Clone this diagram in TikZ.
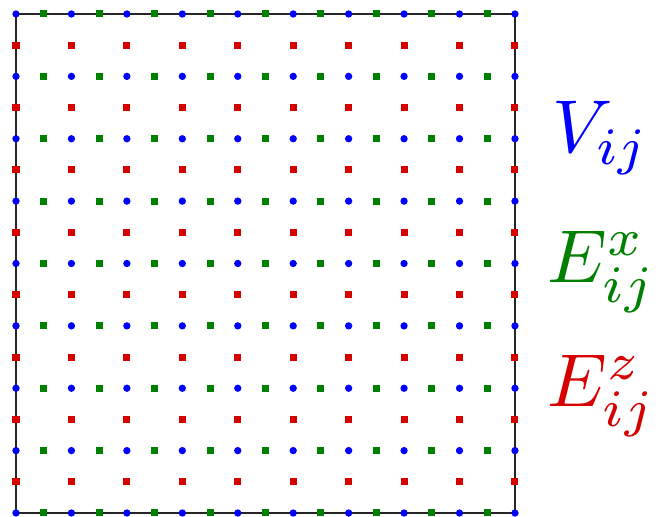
\documentclass[tikz,border=0pt]{standalone}
\usepackage{tikz}
\usetikzlibrary{positioning}
\definecolor{vblue}{RGB}{0,0,255}
\definecolor{xgreen}{RGB}{0,128,0}
\definecolor{zred}{RGB}{214,0,0}
\tikzset{
  latbox/.style={draw=black!85, line width=1pt},
  vdot/.style={fill=vblue},
  xdot/.style={fill=xgreen},
  zdot/.style={fill=zred},
  latlabel/.style={anchor=base west, inner sep=0pt, font=\normalsize, scale=6.4, transform shape},
}

\begin{document}
\begin{tikzpicture}[x=1.6632cm, y=1.87125cm]
  \useasboundingbox (-0.48cm,-0.12cm) rectangle (19.32cm,15.39cm);
  \draw[latbox] (0,0) rectangle (9,8);
  % vertices
  \foreach \i in {0,...,9}
    \foreach \j in {0,...,8}
      \fill[vdot] (\i,\j) circle[radius=0.11cm];
  % x edges
  \foreach \i in {0,...,8}
    \foreach \j in {0,...,8}
      \fill[xdot] (\i+0.5,\j) ++(-0.105cm,-0.105cm) rectangle ++(0.21cm,0.21cm);
  % z edges
  \foreach \i in {0,...,9}
    \foreach \j in {0,...,7}
      \fill[zdot] (\i,\j+0.5) ++(-0.105cm,-0.105cm) rectangle ++(0.21cm,0.21cm);
  % labels
  \node[latlabel, text=vblue] (vlab) at (16.05cm,10.8cm) {$V_{ij}$};
  \node[latlabel, text=xgreen] (xlab) at (15.9cm,6.9cm) {$E^x_{ij}$};
  \node[latlabel, text=zred] (zlab) at (15.9cm,3.18cm) {$E^z_{ij}$};
\end{tikzpicture}
\end{document}
